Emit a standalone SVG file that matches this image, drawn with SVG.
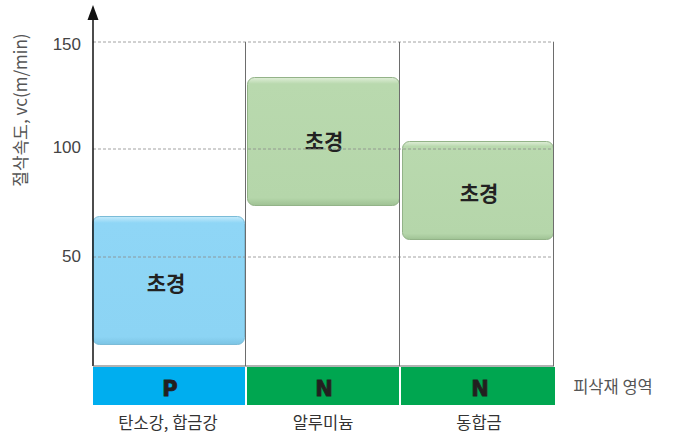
<svg xmlns="http://www.w3.org/2000/svg" width="673" height="437" viewBox="0 0 673 437">
<style>
.grid{stroke:#8a8a8a;stroke-width:0.8;stroke-dasharray:3,2;fill:none}
.vline{stroke:#6d6d6d;stroke-width:1;fill:none}
.tick{font-family:"Liberation Sans",Arial,sans-serif;font-size:17px;fill:#444;text-anchor:end}
.lbl{font-family:"Noto Sans CJK KR","Noto Sans",sans-serif;font-size:16.5px;fill:#333;text-anchor:middle}
.box{font-family:"Noto Sans CJK KR","Noto Sans",sans-serif;font-size:21px;font-weight:bold;fill:#222;text-anchor:middle}
.band{font-family:"DejaVu Sans","Liberation Sans",sans-serif;font-size:21px;font-weight:bold;fill:#231f20;stroke:#231f20;stroke-width:0.8;text-anchor:middle}
</style>
<defs>
<linearGradient id="gB" x1="0" y1="0" x2="0" y2="1">
<stop offset="0" stop-color="#c6ebfb"/>
<stop offset="0.05" stop-color="#8fd6f6"/>
<stop offset="0.94" stop-color="#8cd4f4"/>
<stop offset="1" stop-color="#7cc4e4"/>
</linearGradient>
<linearGradient id="gG" x1="0" y1="0" x2="0" y2="1">
<stop offset="0" stop-color="#e0eed8"/>
<stop offset="0.05" stop-color="#b9d9ae"/>
<stop offset="0.94" stop-color="#b5d6aa"/>
<stop offset="1" stop-color="#9fc294"/>
</linearGradient>
</defs>
<g id="boxP">
<rect x="92.5" y="216.5" width="152" height="128" rx="7" fill="url(#gB)" stroke="#7bbcd8" stroke-width="1"/>
<text class="box" x="166" y="291">초경</text>
</g>
<g id="boxN1">
<rect x="247.5" y="77.5" width="152" height="128" rx="7" fill="url(#gG)" stroke="#93b388" stroke-width="1"/>
<text class="box" x="324" y="149">초경</text>
</g>
<g id="boxN2">
<rect x="402.5" y="141.5" width="151" height="98" rx="7" fill="url(#gG)" stroke="#93b388" stroke-width="1"/>
<text class="box" x="479" y="201">초경</text>
</g>
<g id="grid">
<line class="grid" x1="93" y1="42" x2="554" y2="42"/>
<line class="grid" x1="93" y1="149" x2="554" y2="149"/>
<line class="grid" x1="93" y1="257" x2="554" y2="257"/>
<line class="vline" x1="245.5" y1="42" x2="245.5" y2="366"/>
<line class="vline" x1="399.5" y1="42" x2="399.5" y2="366"/>
<line class="vline" x1="553.5" y1="42" x2="553.5" y2="366"/>
</g>
<g id="axes">
<line x1="93" y1="366" x2="93" y2="18" stroke="#111" stroke-width="1.5"/>
<polygon points="93,5 87.5,20 98.5,20" fill="#111"/>
<line x1="93" y1="366" x2="554" y2="366" stroke="#666" stroke-width="1.2"/>
<text class="tick" x="81" y="50">150</text>
<text class="tick" x="81" y="153">100</text>
<text class="tick" x="81" y="262">50</text>
<text class="lbl" transform="translate(27,110) rotate(-90)" style="font-size:17px;fill:#555">절삭속도, vc(m/min)</text>
</g>
<g id="bandP">
<rect x="93" y="367" width="152" height="38" fill="#00aeef"/>
<text class="band" x="170" y="396">P</text>
<text class="lbl" x="168" y="429">탄소강, 합금강</text>
</g>
<g id="bandN1">
<rect x="247" y="367" width="152" height="38" fill="#00a650"/>
<text class="band" x="324" y="396">N</text>
<text class="lbl" x="323" y="429">알루미늄</text>
</g>
<g id="bandN2">
<rect x="401" y="367" width="154" height="38" fill="#00a650"/>
<text class="band" x="480" y="396">N</text>
<text class="lbl" x="479" y="429">동합금</text>
</g>
<text class="lbl" x="613" y="393" style="fill:#555">피삭재 영역</text>
</svg>
